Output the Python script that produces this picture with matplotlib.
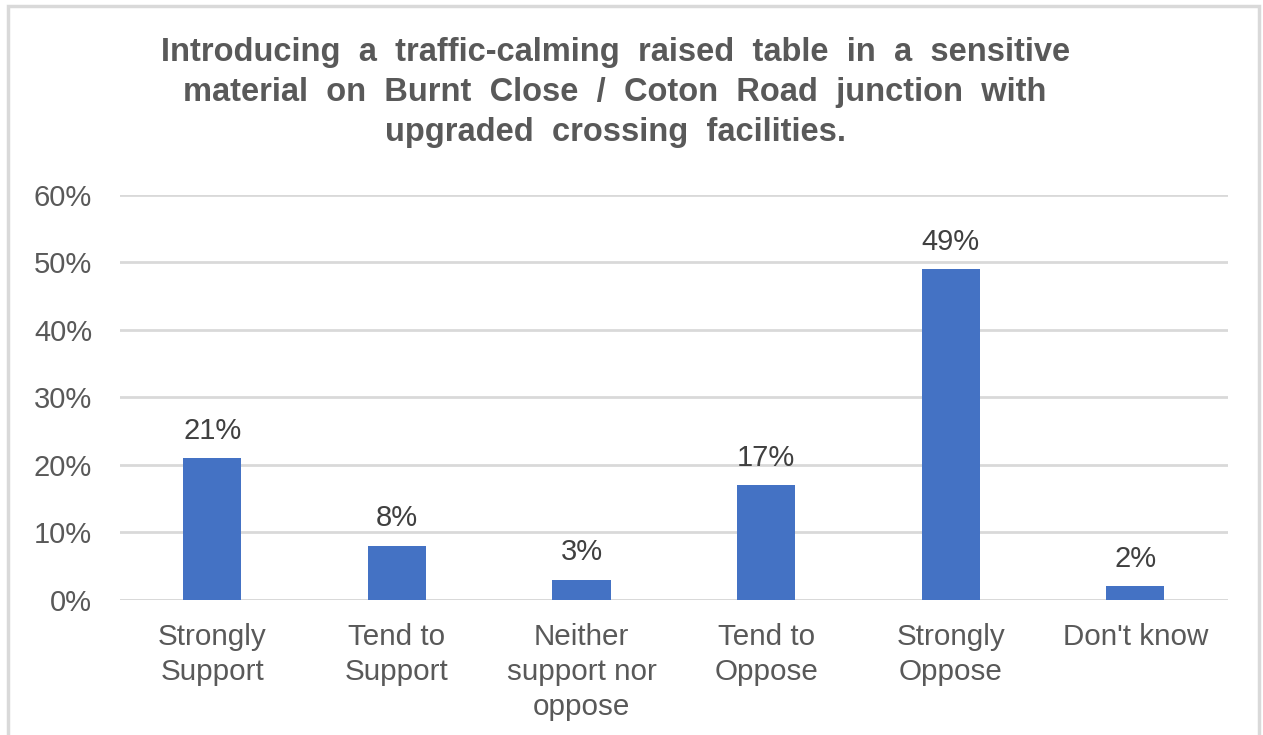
import matplotlib
matplotlib.use("Agg")
import matplotlib.pyplot as plt
from matplotlib.patches import Rectangle
from matplotlib.ticker import FuncFormatter

plt.rcParams["font.family"] = ["Liberation Sans", "DejaVu Sans"]

# Survey responses (percent of respondents)
categories = ["Strongly\nSupport", "Tend to\nSupport", "Neither\nsupport nor\noppose",
              "Tend to\nOppose", "Strongly\nOppose", "Don't know"]
shares = [21, 8, 3, 17, 49, 2]
y_ticks = [0, 10, 20, 30, 40, 50, 60]

title = ("Introducing  a  traffic-calming  raised  table  in  a  sensitive\n"
         "material  on  Burnt  Close  /  Coton  Road  junction  with\n"
         "upgraded  crossing  facilities.")

BAR = "#4472C4"
GRID = "#D9D9D9"
TEXT = "#595959"
LABEL = "#404040"

fig = plt.figure(figsize=(12.63, 7.35), dpi=100)
ax = fig.add_axes([0.095, 0.1837, 0.877, 0.551])

x = range(len(categories))
ax.bar(x, shares, width=0.315, color=BAR, zorder=3)
for xi, v in zip(x, shares):
    ax.text(xi, v + 2.9, f"{v}%", ha="center", va="baseline", fontsize=21, color=LABEL)

ax.set_xlim(-0.5, len(categories) - 0.5)
ax.set_ylim(0, 60)
ax.set_yticks(y_ticks)
ax.yaxis.set_major_formatter(FuncFormatter(lambda v, _: f"{v:.0f}%"))
ax.grid(axis="y", color=GRID, linewidth=2, zorder=0)
ax.set_xticks(list(x))
ax.set_xticklabels(categories, fontsize=21.3, color=TEXT, linespacing=1.32, va="top")
ax.tick_params(axis="y", labelsize=21, labelcolor=TEXT, length=0, pad=20)
ax.tick_params(axis="x", length=0, pad=16.5)
for s in ax.spines.values():
    s.set_visible(False)
ax.axhline(0, color=GRID, linewidth=2, zorder=2)

fig.text(0.487, 0.95, title, ha="center", va="top", fontsize=23.5,
         fontweight="bold", color=TEXT, linespacing=1.38)

# light frame round the chart area, open at the bottom
fig.patches.append(Rectangle((8 / 1263, -0.05), 1251 / 1263, 1 - 6 / 735 + 0.05,
                             transform=fig.transFigure, fill=False,
                             edgecolor=GRID, linewidth=2.5))

fig.savefig("out.png", dpi=100)
